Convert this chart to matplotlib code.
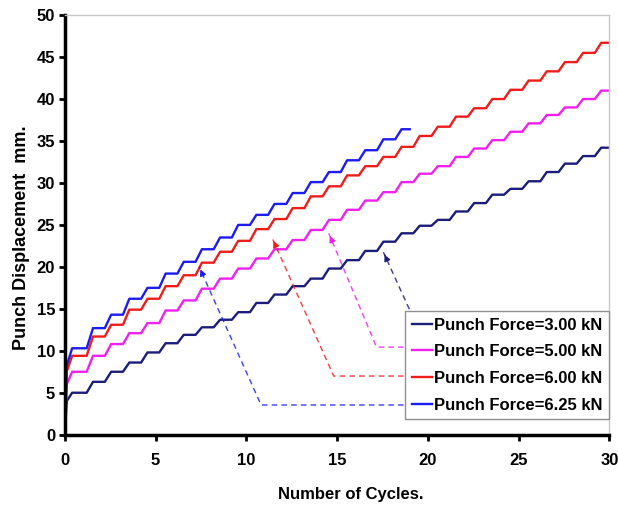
import numpy as np
import matplotlib
matplotlib.use("Agg")
import matplotlib.pyplot as plt

# plateau level of each cycle (mm)
cycles_max = 30
force_labels = ["Punch Force=3.00 kN", "Punch Force=5.00 kN",
                "Punch Force=6.00 kN", "Punch Force=6.25 kN"]
disp_300 = [5.0, 6.3, 7.5, 8.6, 9.8, 10.9, 11.9, 12.8, 13.7, 14.6,
            15.7, 16.7, 17.7, 18.6, 19.8, 20.8, 21.9, 23.0, 24.0, 24.9,
            25.6, 26.6, 27.6, 28.6, 29.3, 30.2, 31.3, 32.3, 33.2, 34.2]
disp_500 = [7.5, 9.4, 10.8, 12.1, 13.3, 14.8, 16.0, 17.4, 18.6, 19.8,
            21.0, 22.1, 23.2, 24.4, 25.6, 26.8, 27.9, 28.9, 30.1, 31.1,
            32.0, 33.1, 34.1, 35.1, 36.1, 37.1, 38.1, 39.0, 40.0, 41.0]
disp_600 = [9.4, 11.7, 13.1, 14.9, 16.2, 17.7, 19.0, 20.5, 21.8, 23.1,
            24.5, 25.7, 27.0, 28.4, 29.6, 30.9, 32.0, 33.1, 34.3, 35.6,
            36.7, 37.9, 38.9, 40.0, 41.1, 42.2, 43.3, 44.4, 45.5, 46.7]
disp_625 = [10.3, 12.7, 14.3, 16.2, 17.5, 19.2, 20.6, 22.1, 23.5, 25.0,
            26.2, 27.5, 28.8, 30.1, 31.3, 32.7, 33.9, 35.2, 36.4]
series = [disp_300, disp_500, disp_600, disp_625]
colors = ["#1c1c7a", "#f020f0", "#f01c1c", "#1c1cf0"]


def staircase(levels, x_end):
    xs = [0.0, 0.1]
    ys = [0.0, 0.8 * levels[0]]
    for k, v in enumerate(levels):
        if k == 0:
            xs += [0.4]
        else:
            xs += [k + 0.55]
        ys += [v]
        end = min(k + 1.2, x_end)
        xs.append(end)
        ys.append(v)
    return xs, ys


plt.rcParams["font.family"] = ["Liberation Sans Narrow", "Liberation Sans", "DejaVu Sans"]
plt.rcParams["font.weight"] = "bold"

fig = plt.figure(figsize=(6.18, 5.07), dpi=100)
ax = fig.add_axes([0.105, 0.1426, 0.881, 0.8276])

for levels, col, lab in zip(series, colors, force_labels):
    x_end = cycles_max if len(levels) == cycles_max else len(levels)
    xs, ys = staircase(levels, x_end)
    ax.plot(xs, ys, color=col, lw=1.7, label=lab, solid_joinstyle="round")

# dashed pointers from legend to curves
pointers = [
    ([19.2, 17.55], [13.9, 21.75]),
    ([19.2, 17.17, 14.54], [10.44, 10.44, 24.0]),
    ([19.2, 14.81, 11.43], [6.99, 6.99, 23.4]),
    ([19.2, 10.81, 7.4], [3.54, 3.54, 20.0]),
]
for (px, py), col in zip(pointers, colors):
    ax.plot(px, py, color=col, lw=1.0, ls=(0, (4, 3)), alpha=0.85)
    dx = px[-1] - px[-2]
    dy = py[-1] - py[-2]
    ax.annotate("", xy=(px[-1], py[-1]), xytext=(px[-1] - 0.08 * dx, py[-1] - 0.08 * dy),
                arrowprops=dict(arrowstyle="-|>", color=col, lw=1.0, mutation_scale=9))

ax.set_xlim(0, 30)
ax.set_ylim(0, 50)
ax.set_xticks(np.arange(0, 31, 5))
ax.set_yticks(np.arange(0, 51, 5))
ax.tick_params(axis="both", direction="out", length=4, width=2, labelsize=12, pad=3)
ax.tick_params(axis="x", pad=9)
for s in ["left", "bottom"]:
    ax.spines[s].set_linewidth(2.5)
    ax.spines[s].set_color("black")
for s in ["top", "right"]:
    ax.spines[s].set_linewidth(1.0)
    ax.spines[s].set_color("#c8c8c8")

ax.set_xlabel("Number of Cycles.", fontsize=12, fontweight="bold")
ax.set_ylabel("Punch Displacement  mm.", fontsize=13, fontweight="bold")
ax.xaxis.set_label_coords(0.525, -0.125)
ax.yaxis.set_label_coords(-0.065, 0.47)

leg = ax.legend(loc="lower right", bbox_to_anchor=(1.0, 0.037), borderaxespad=0,
                fancybox=False, framealpha=1, edgecolor="#909090",
                prop={"size": 12, "weight": "bold"}, handlelength=1.2,
                handletextpad=0.15, labelspacing=0.7, borderpad=0.4)
leg.get_frame().set_linewidth(1.0)

fig.savefig("out.png", dpi=100)
